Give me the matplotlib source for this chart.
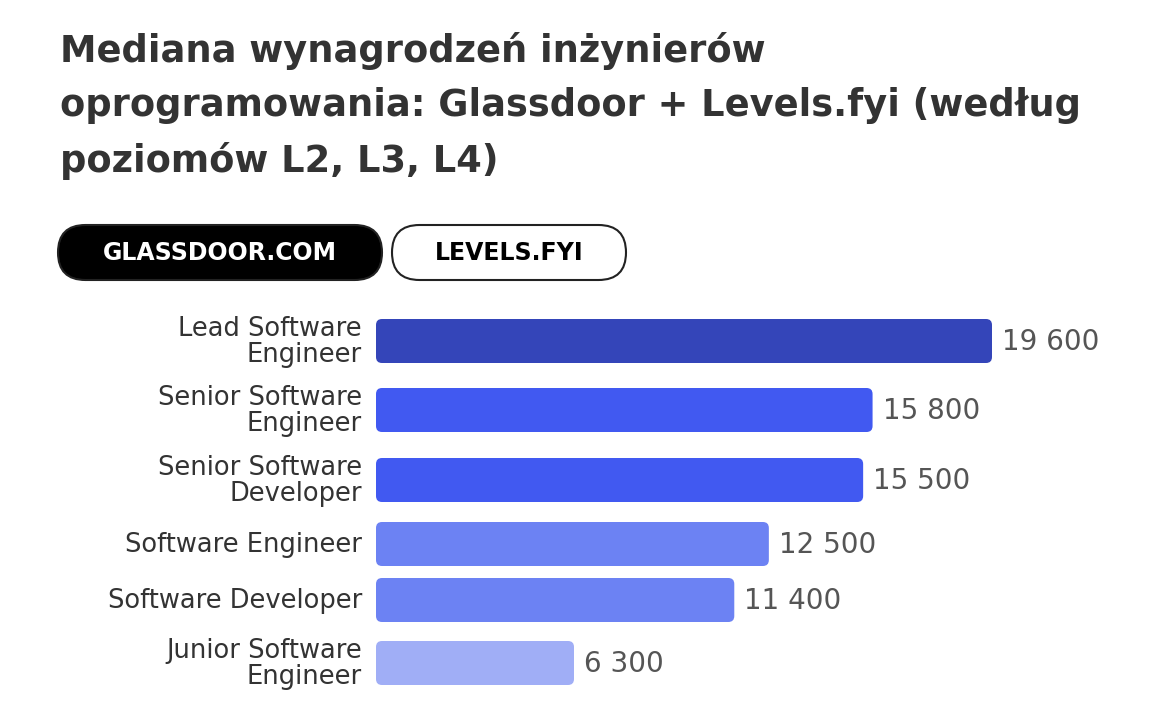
import matplotlib.pyplot as plt
from matplotlib.patches import FancyBboxPatch

# data
labels = ["Lead Software\nEngineer", "Senior Software\nEngineer", "Senior Software\nDeveloper",
          "Software Engineer", "Software Developer", "Junior Software\nEngineer"]
values = [19600, 15800, 15500, 12500, 11400, 6300]
value_texts = ["19 600", "15 800", "15 500", "12 500", "11 400", "6 300"]
colors = ["#3445B9", "#4159F1", "#4159F1", "#6C82F3", "#6C82F3", "#A0AEF6"]
title = "Mediana wynagrodzeń inżynierów\noprogramowania: Glassdoor + Levels.fyi (według\npoziomów L2, L3, L4)"
tabs = ["GLASSDOOR.COM", "LEVELS.FYI"]

W, H = 1160, 728
FONT = "DejaVu Sans"
fig = plt.figure(figsize=(W / 100, H / 100), dpi=100)
fig.patch.set_facecolor("white")

# overlay axes in pixel coords for title and tabs
bg = fig.add_axes([0, 0, 1, 1])
bg.set_xlim(0, W)
bg.set_ylim(H, 0)
bg.axis("off")

bg.text(60, 106, title, fontsize=26.5, family=FONT, fontweight="bold",
        color="#333333", va="center", ha="left", linespacing=1.58)

tab_boxes = [(58, 225, 324, 55, "black", "white"), (392, 225, 234, 55, "white", "black")]
for (x, y, w, h, fc, tc), t in zip(tab_boxes, tabs):
    p = FancyBboxPatch((x, y), w, h, boxstyle="round,pad=0,rounding_size=27.5",
                       fc=fc, ec="#222222", lw=1.5)
    bg.add_patch(p)
    bg.text(x + w / 2, y + h / 2 + 1, t, color=tc, fontsize=17, fontweight="bold",
            family=FONT, ha="center", va="center")

# bar axes: x in data units, y in pixel rows
left_px, right_px, top_px, bot_px = 376, 1160, 300, 705
ax = fig.add_axes([left_px / W, 1 - bot_px / H, (right_px - left_px) / W, (bot_px - top_px) / H])
px_per_unit = (992 - 376) / 19600
ax.set_xlim(0, (right_px - left_px) / px_per_unit)
ax.set_ylim(bot_px, top_px)
ax.axis("off")

centers = [341, 410, 480, 544, 600, 663]
bar_h = 44
units_per_px = 1 / px_per_unit
r = 6
for c, v, col, lab, vt in zip(centers, values, colors, labels, value_texts):
    p = FancyBboxPatch((0, c - bar_h / 2), v, bar_h,
                       boxstyle=f"round,pad=0,rounding_size={r * units_per_px}",
                       mutation_aspect=1 / units_per_px, fc=col, ec="none")
    ax.add_patch(p)
    ax.text(v + 10 * units_per_px, c + 1, vt, fontsize=20, color="#555555",
            family=FONT, ha="left", va="center")
    ax.text(-14 * units_per_px, c + 1, lab, fontsize=18.5, color="#333333",
            family=FONT, ha="right", va="center", linespacing=1.0, clip_on=False)

fig.savefig("out.png", dpi=100, facecolor="white")
